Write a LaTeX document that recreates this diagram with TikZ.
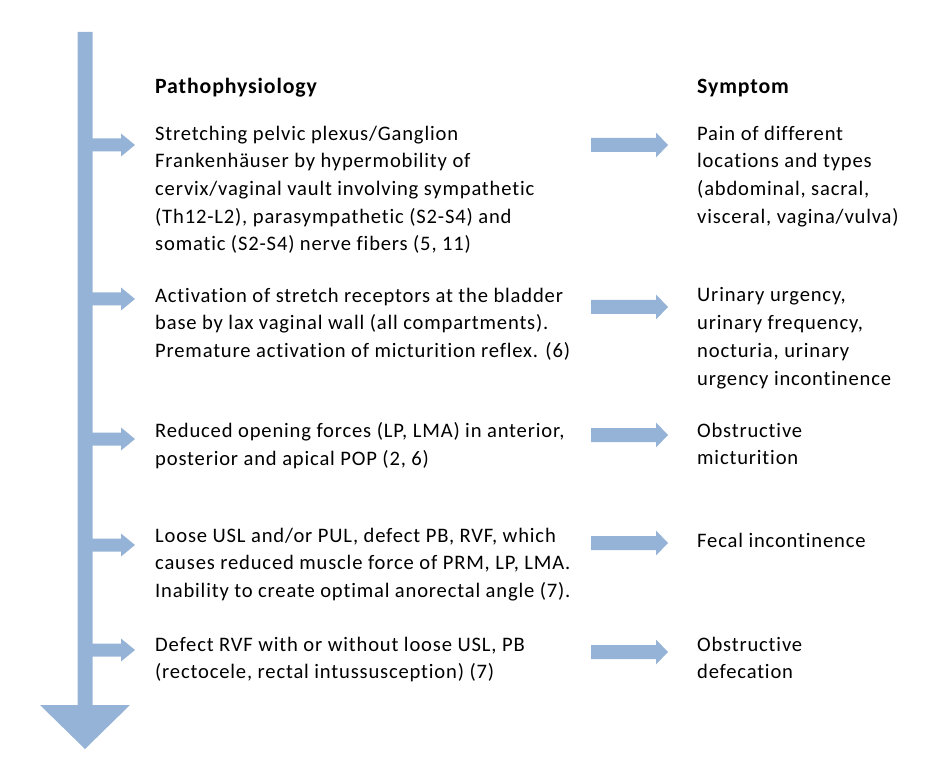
\documentclass[tikz,border=0pt]{standalone}
\usepackage{fontspec}
\setmainfont{Carlito}[Ligatures=NoCommon,LetterSpace=4.0]
\definecolor{arrowblue}{HTML}{95B3D7}

\begin{document}
\begin{tikzpicture}[x=1pt,y=-1pt,
  txt/.style={anchor=north west,inner sep=0pt,align=left,
    font=\fontsize{20.6}{27.7}\selectfont,execute at begin node=\strut},
  headtxt/.style={txt,font=\fontsize{21.8}{27.7}\selectfont\bfseries}]
\useasboundingbox (0,0) rectangle (946,762);

% Main downward arrow.
\fill[arrowblue] (77.5,32) -- (92.5,32) -- (92.5,705) -- (130,705)
  -- (85,749) -- (40,705) -- (77.5,705) -- cycle;

% Branch arrows off the main arrow.
\foreach \y in {145,299,439,545,650}
  \fill[arrowblue] (92,\y-6.5) -- (121,\y-6.5) -- (121,\y-11.5) -- (135,\y)
    -- (121,\y+11.5) -- (121,\y+6.5) -- (92,\y+6.5) -- cycle;

% Arrows towards the symptoms.
\foreach \y in {145,307,435,543,652}
  \fill[arrowblue] (591,\y-7) -- (656,\y-7) -- (656,\y-12.5) -- (668,\y)
    -- (656,\y+12.5) -- (656,\y+7) -- (591,\y+7) -- cycle;

% Headers.
\node[headtxt] (patho) at (155,73.6) {Pathophysiology};
\node[headtxt] (symptom) at (697,73.6) {Symptom};

% Pathophysiology column.
\node[txt] (cause1) at (155,125.6) {Stretching pelvic plexus/Ganglion\\
  Frankenhäuser by hypermobility of\\
  cervix/vaginal vault involving sympathetic\\
  (Th12-L2), parasympathetic (S2-S4) and\\
  somatic (S2-S4) nerve fibers (5, 11)};
\node[txt] (cause2) at (155,287.6) {Activation of stretch receptors at the bladder\\
  base by lax vaginal wall (all compartments).\\
  Premature activation of micturition reflex. (6)};
\node[txt] (cause3) at (155,422.6) {Reduced opening forces (LP, LMA) in anterior,\\
  posterior and apical POP (2, 6)};
\node[txt] (cause4) at (155,527.6) {Loose USL and/or PUL, defect PB, RVF, which\\
  causes reduced muscle force of PRM, LP, LMA.\\
  Inability to create optimal anorectal angle (7).};
\node[txt] (cause5) at (155,636.6) {Defect RVF with or without loose USL, PB\\
  (rectocele, rectal intussusception) (7)};

% Symptom column.
\node[txt] (sym1) at (697,125.6) {Pain of different\\
  locations and types\\
  (abdominal, sacral,\\
  visceral, vagina/vulva)};
\node[txt] (sym2) at (697,287.6) {Urinary urgency,\\
  urinary frequency,\\
  nocturia, urinary\\
  urgency incontinence};
\node[txt] (sym3) at (697,422.6) {Obstructive\\
  micturition};
\node[txt] (sym4) at (697,527.6) {Fecal incontinence};
\node[txt] (sym5) at (697,636.6) {Obstructive\\
  defecation};

\end{tikzpicture}
\end{document}
